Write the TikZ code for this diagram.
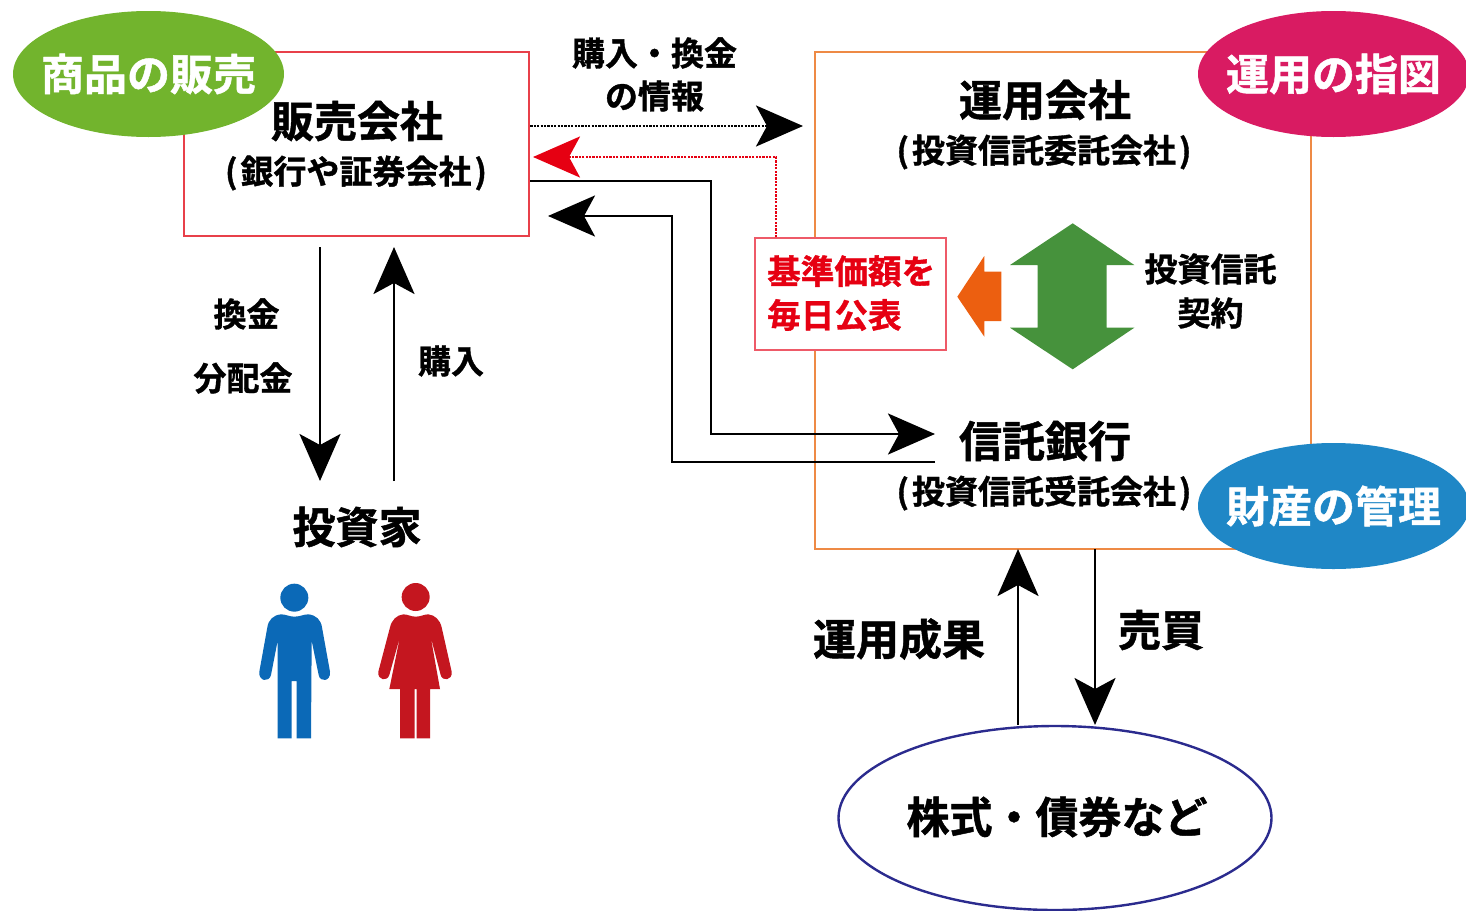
\documentclass[tikz,border=0pt]{standalone}
\usepackage{fontspec}
\setmainfont{Noto Sans CJK JP}[BoldFont={Noto Sans CJK JP Bold},BoldFeatures={FakeBold=1.1}]
\usetikzlibrary{arrows.meta,shapes.geometric}
\definecolor{cgreen}{HTML}{72B42D}
\definecolor{cmag}{HTML}{D91B62}
\definecolor{cblue}{HTML}{1F87C6}
\definecolor{credbox}{HTML}{E8404A}
\definecolor{cnoticebox}{HTML}{EE5A68}
\definecolor{corange}{HTML}{EE8A45}
\definecolor{cnavy}{HTML}{2B2B8E}
\definecolor{cred}{HTML}{E60012}
\definecolor{cdgreen}{HTML}{46923C}
\definecolor{corarrow}{HTML}{EC5F10}
\definecolor{cman}{HTML}{0B69B7}
\definecolor{cwoman}{HTML}{C4161F}
\newcommand{\sizeL}{\fontsize{43}{43}\selectfont\bfseries}
\newcommand{\sizeM}{\fontsize{33}{33}\selectfont\bfseries}
\newcommand{\sizeN}{\fontsize{33.6}{33.6}\selectfont\bfseries}
\tikzset{
  x=1pt,y=-1pt,
  tagell/.style={ellipse,minimum width=271pt,minimum height=126pt,inner sep=0pt},
  tagtext/.style={inner sep=0pt,text=white,font=\sizeL},
  big/.style={inner sep=0pt,font=\sizeL,text=black},
  mid/.style={inner sep=0pt,font=\sizeM,text=black},
  flow/.style={line width=2.7pt,draw=black,-{Stealth[length=47pt,width=41pt,inset=11pt]}},
  dotflow/.style={flow,dash pattern=on 2.2pt off 1.2pt},
  redflow/.style={line width=2.7pt,draw=cred,dash pattern=on 2.2pt off 1.2pt,-{Stealth[length=47pt,width=41pt,inset=11pt,color=cred,fill=cred,sep=0pt]}},
  frame/.style={draw,inner sep=0pt,fill=none},
}
\begin{document}
\begin{tikzpicture}
\useasboundingbox (0,0) rectangle (1466,910);
% frames
\node[frame,draw=credbox,line width=2.6pt,minimum width=345pt,minimum height=184pt] (sales) at (356.5,144) {};
\node[frame,draw=corange,line width=2.6pt,minimum width=496pt,minimum height=497pt] (fund) at (1063,300.5) {};
% connectors
\coordinate (trustin) at (935,434);
\coordinate (trustout) at (935,462);
\coordinate (investtop) at (320,481);
\coordinate (investtopb) at (394,481);
\coordinate (assetl) at (1018,725);
\coordinate (assetr) at (1095,725);
\node[frame,draw=cnoticebox,line width=1.4pt,fill=white,minimum width=191pt,minimum height=112pt] (notice) at (850.5,294) {};
\draw[dotflow] (sales.east |- 0,126) -- (803,126);
\draw[redflow] (notice.north -| 776,0) -- (776,157) -- (533,157);
\draw[flow] (sales.east |- 0,181) -- (711,181) -- (711,434) -- (trustin);
\draw[flow] (trustout) -- (672,462) -- (672,216) -- (548,216);
\draw[flow] (320,247) -- (investtop);
\draw[flow] (investtopb) -- (394,247);
\draw[flow] (assetl) -- (1018,549);
\draw[flow] (1095,549) -- (assetr);
% tag ellipses
\node[tagell,fill=cgreen] (tagsale) at (148.5,74) {};
\node[tagtext] at (tagsale) {商品の販売};
\node[tagell,fill=cmag] (tagrun) at (1333.5,74) {};
\node[tagtext] at (tagrun) {運用の指図};
\node[tagell,fill=cblue] (tagasset) at (1333.5,506) {};
\node[tagtext] at (tagasset) {財産の管理};
\node[ellipse,draw=cnavy,line width=2.4pt,fill=white,minimum width=433pt,minimum height=184pt,inner sep=0pt] (assets) at (1055,818) {};
\node[big] at (1057,817) {株式・債券など};
% labels
\node[big] at (357,121) {販売会社};
\node[mid] at (356,173) {(\kern3pt 銀行や証券会社\kern3pt )};
\node[big] at (1045,100) {運用会社};
\node[mid] at (1044,152) {(\kern3pt 投資信託委託会社\kern3pt )};
\node[big] at (1045,441) {信託銀行};
\node[mid] at (1044,493) {(\kern3pt 投資信託受託会社\kern3pt )};
\node[mid] at (654.5,53) {購入・換金};
\node[mid] at (654.5,96) {の情報};
\node[mid] at (246.5,314) {換金};
\node[mid] at (243,378) {分配金};
\node[mid] at (451,361) {購入};
\node[big] at (357,527) {投資家};
\node[big] at (899,639) {運用成果};
\node[big] at (1161,630) {売買};
\node[mid] at (1210.5,269) {投資信託};
\node[mid] at (1210.5,313) {契約};
\node[font=\sizeN,inner sep=0pt,text=cred,anchor=west] at (767,271) {基準価額を};
\node[font=\sizeN,inner sep=0pt,text=cred,anchor=west] at (767,315) {毎日公表};
% block arrows
\fill[cdgreen] (1072.7,223.3) -- (1134.3,265) -- (1106.7,265) -- (1106.7,327.7) -- (1134.3,327.7) -- (1072.7,369.3) -- (1010,327.7) -- (1037.7,327.7) -- (1037.7,265) -- (1010,265) -- cycle;
\fill[corarrow] (957.3,296.7) -- (984.3,256) -- (984.3,271.7) -- (1001.3,271.7) -- (1001.3,321) -- (984.3,321) -- (984.3,336.7) -- cycle;
% people
\begin{scope}[shift={(240,570)},x=0.33333pt,y=-0.33333pt]
\fill[cman] (163,83) circle[radius=42];
\fill[cman] (163,140) .. controls (180,140) and (190,133) .. (205,133) .. controls (228,135) and (243,150) .. (246,172) -- (270,305) .. controls (273,335) and (240,338) .. (236,315) -- (215,212) -- (213,505) -- (170,505) -- (170,333) -- (155,333) -- (155,505) -- (113,505) -- (113,212) -- (93,315) .. controls (88,338) and (55,335) .. (58,305) -- (82,172) .. controls (85,150) and (100,135) .. (123,133) .. controls (138,133) and (148,140) .. (163,140) -- cycle;
\fill[cwoman] (527,81) circle[radius=42];
\fill[cwoman] (527,140) .. controls (542,140) and (552,133) .. (565,133) .. controls (585,135) and (600,150) .. (605,172) -- (635,305) .. controls (638,332) and (607,335) .. (602,315) -- (572,200) -- (600,357) -- (570,357) -- (570,505) -- (530,505) -- (530,357) -- (524,357) -- (524,505) -- (480,505) -- (480,357) -- (448,357) -- (480,200) -- (448,315) .. controls (442,335) and (412,332) .. (415,305) -- (450,172) .. controls (455,150) and (470,135) .. (490,133) .. controls (503,133) and (513,140) .. (527,140) -- cycle;
\end{scope}
\end{tikzpicture}
\end{document}
